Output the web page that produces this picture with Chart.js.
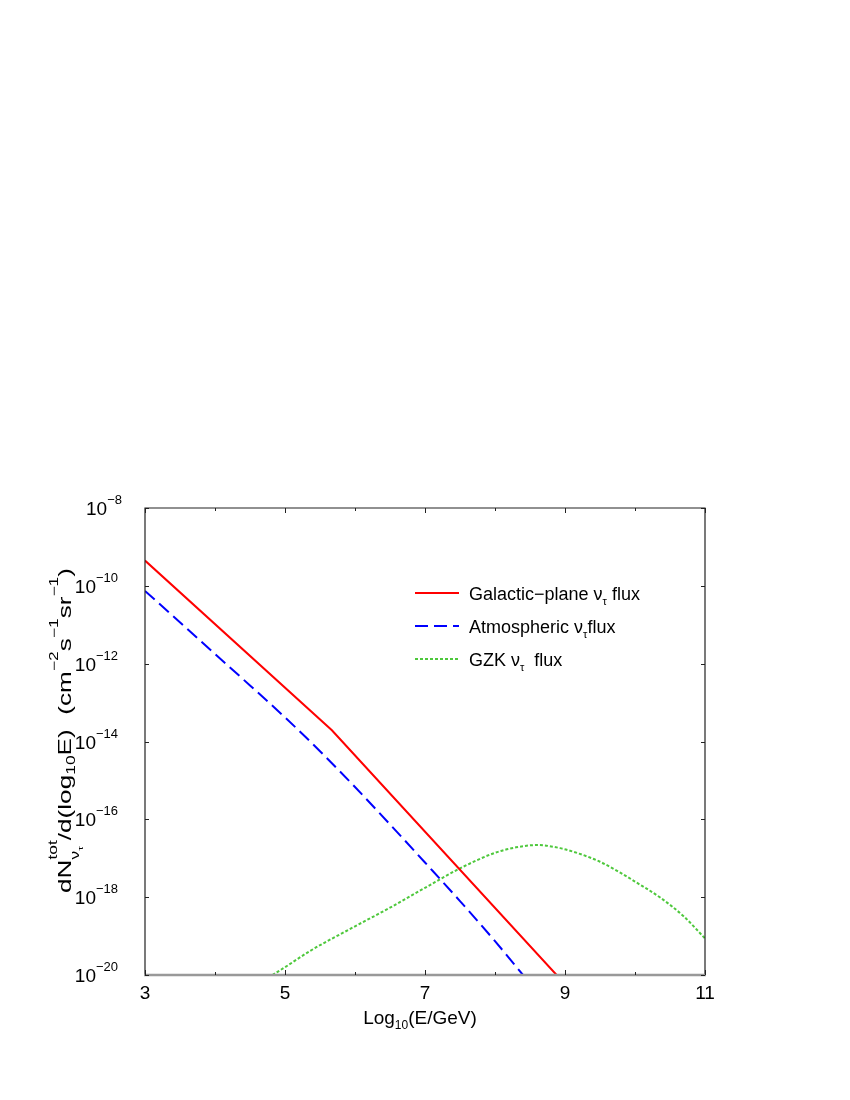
<!DOCTYPE html>
<html lang="en">
<head>
<meta charset="UTF-8">
<title>Tau neutrino flux</title>
<script src="https://cdn.jsdelivr.net/npm/chart.js"></script>
<style>
  body { margin: 0; background: #fff; }
</style>
</head>
<body>
<canvas id="fluxChart" width="850" height="1100"></canvas>
<script>
  // x = log10(E/GeV), y = log10 of dN/d(log10 E)
  const galE    = [3, 5.67, 8.88];
  const galFlux = [-9.35, -13.71, -20];

  const atmE    = [3, 4, 4.5, 5, 5.5, 6, 6.5, 7, 7.5, 8, 8.4];
  const atmFlux = [-10.13, -11.75, -12.56, -13.38, -14.25, -15.17, -16.13, -17.11, -18.1, -19.13, -20];

  const gzkE    = [4.82, 5, 5.36, 6, 6.5, 7, 7.5, 8, 8.3, 8.6, 8.93, 9.2, 9.5, 9.79, 10, 10.36, 10.7, 11];
  const gzkFlux = [-20, -19.8, -19.38, -18.75, -18.27, -17.76, -17.26, -16.86, -16.72, -16.66, -16.74, -16.88, -17.09, -17.37, -17.6, -18.01, -18.5, -19.06];

  const xTicks = [3, 4, 5, 6, 7, 8, 9, 10, 11];
  const xLabels = [3, 5, 7, 9, 11];
  const yExps = [-8, -10, -12, -14, -16, -18, -20];

  const FONT = '"Liberation Sans", Arial, Helvetica, sans-serif';
  function font(px) { return px + 'px ' + FONT; }

  // parts: [text, size, dy] or {stack: [parts, parts]}
  function runWidth(ctx, parts) {
    let w = 0;
    parts.forEach(p => {
      if (p.stack) {
        w += Math.max(...p.stack.map(s => runWidth(ctx, s)));
      } else {
        ctx.font = font(p[1]);
        w += ctx.measureText(p[0]).width;
      }
    });
    return w;
  }
  function drawRun(ctx, x, y, parts) {
    let cx = x;
    parts.forEach(p => {
      if (p.stack) {
        let w = 0;
        p.stack.forEach(s => { w = Math.max(w, drawRun(ctx, cx, y, s)); });
        cx += w;
      } else {
        ctx.font = font(p[1]);
        ctx.fillText(p[0], cx, y + p[2]);
        cx += ctx.measureText(p[0]).width;
      }
    });
    return cx - x;
  }

  function pts(xs, ys) { return xs.map((x, i) => ({ x: x, y: ys[i] })); }

  const legendRows = [
    { color: '#ff0000', dash: [], parts: [['Galactic\u2212plane \u03bd', 18, 0], ['\u03c4', 11, 5], [' flux', 18, 0]] },
    { color: '#0000ff', dash: [13, 6], parts: [['Atmospheric \u03bd', 18, 0], ['\u03c4', 11, 5], ['flux', 18, 0]] },
    { color: '#4ec83c', dash: [3, 2], parts: [['GZK \u03bd', 18, 0], ['\u03c4', 11, 5], ['  flux', 18, 0]] }
  ];

  const decor = {
    id: 'decor',
    afterDraw(chart) {
      const ctx = chart.ctx;
      const a = chart.chartArea;
      const xs = chart.scales.x, ys = chart.scales.y;
      ctx.save();

      // frame
      ctx.strokeStyle = '#222';
      ctx.lineWidth = 1.2;
      ctx.beginPath();
      ctx.moveTo(a.left, a.bottom); ctx.lineTo(a.left, a.top);
      ctx.lineTo(a.right, a.top); ctx.lineTo(a.right, a.bottom);
      ctx.stroke();
      ctx.strokeStyle = '#999';
      ctx.lineWidth = 2.5;
      ctx.beginPath();
      ctx.moveTo(a.left - 1, a.bottom); ctx.lineTo(a.right + 1, a.bottom);
      ctx.stroke();

      // ticks
      ctx.strokeStyle = '#222';
      ctx.lineWidth = 1;
      ctx.beginPath();
      xTicks.forEach(v => {
        const px = Math.round(xs.getPixelForValue(v)) + 0.5;
        const len = xLabels.includes(v) ? 5 : 3;
        ctx.moveTo(px, a.bottom); ctx.lineTo(px, a.bottom - len);
        ctx.moveTo(px, a.top); ctx.lineTo(px, a.top + len);
      });
      yExps.forEach(v => {
        const py = Math.round(ys.getPixelForValue(v)) + 0.5;
        ctx.moveTo(a.left, py); ctx.lineTo(a.left + 4, py);
        ctx.moveTo(a.right, py); ctx.lineTo(a.right - 4, py);
      });
      ctx.stroke();

      ctx.fillStyle = '#000';
      ctx.textBaseline = 'alphabetic';

      // x tick labels
      ctx.font = font(19);
      ctx.textAlign = 'center';
      xLabels.forEach(v => ctx.fillText(String(v), xs.getPixelForValue(v), a.bottom + 24));
      ctx.textAlign = 'left';

      // y tick labels
      yExps.forEach(v => {
        const py = ys.getPixelForValue(v);
        const parts = [['10', 19, 0], [String(v).replace('-', '\u2212'), 13, -11]];
        const w = runWidth(ctx, parts);
        const right = v > -10 ? 122 : 118;
        drawRun(ctx, right - w, py + 7, parts);
      });

      // x title
      const xt = [['Log', 19, 0], ['10', 12, 5], ['(E/GeV)', 19, 0]];
      drawRun(ctx, 420 - runWidth(ctx, xt) / 2, 1024, xt);

      // y title (rotated)
      const yt = [
        ['dN', 18, 0],
        { stack: [[['tot', 12, -14]], [['\u03bd', 12, 8], ['\u03c4', 8, 12]]] },
        ['/d(log', 18, 0], ['10', 12, 4], ['E)  (cm', 18, 0],
        ['\u22122', 12, -13], ['s', 18, 0], ['\u22121', 12, -13],
        ['sr', 18, 0], ['\u22121', 12, -13], [')', 18, 0]
      ];
      const span = 325;
      const sx = span / runWidth(ctx, yt);
      ctx.save();
      ctx.translate(71, 893);
      ctx.rotate(-Math.PI / 2);
      ctx.scale(sx, 1);
      drawRun(ctx, 0, 0, yt);
      ctx.restore();

      // legend
      legendRows.forEach((r, i) => {
        const y = 593 + i * 33;
        ctx.strokeStyle = r.color;
        ctx.lineWidth = 2;
        ctx.setLineDash(r.dash);
        ctx.beginPath();
        ctx.moveTo(415, y); ctx.lineTo(459, y);
        ctx.stroke();
        ctx.setLineDash([]);
        ctx.fillStyle = '#000';
        drawRun(ctx, 469, y + 7, r.parts);
      });

      ctx.restore();
    }
  };

  new Chart(document.getElementById('fluxChart').getContext('2d'), {
    type: 'line',
    data: {
      datasets: [
        {
          label: 'Galactic-plane flux',
          data: pts(galE, galFlux),
          borderColor: '#ff0000',
          borderWidth: 2,
          tension: 0
        },
        {
          label: 'Atmospheric flux',
          data: pts(atmE, atmFlux),
          borderColor: '#0000ff',
          borderWidth: 2,
          borderDash: [13, 6],
          cubicInterpolationMode: 'monotone'
        },
        {
          label: 'GZK flux',
          data: pts(gzkE, gzkFlux),
          borderColor: '#4ec83c',
          borderWidth: 2,
          borderDash: [3, 2],
          cubicInterpolationMode: 'monotone'
        }
      ]
    },
    options: {
      responsive: false,
      animation: false,
      layout: { padding: { left: 145, right: 145, top: 508, bottom: 125 } },
      elements: { point: { radius: 0 } },
      plugins: { legend: { display: false }, tooltip: { enabled: false } },
      scales: {
        x: { type: 'linear', min: 3, max: 11, display: false },
        y: { type: 'linear', min: -20, max: -8, display: false }
      }
    },
    plugins: [decor]
  });
</script>
</body>
</html>
